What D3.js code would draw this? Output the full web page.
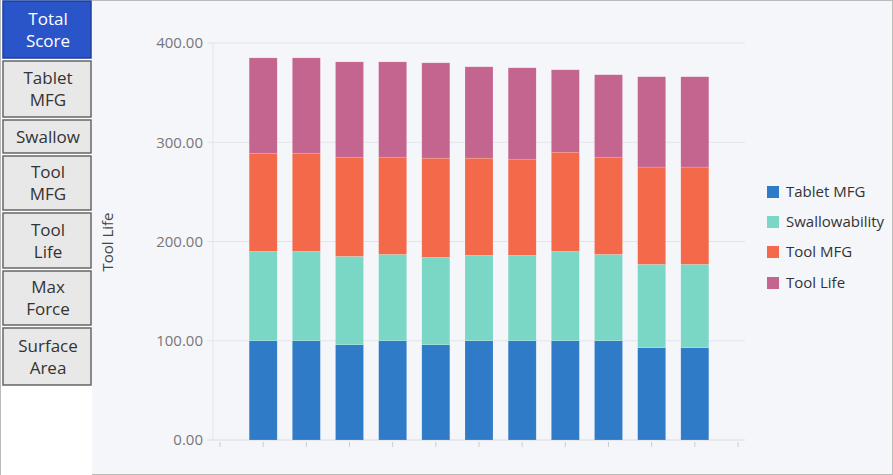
<!DOCTYPE html><html><head><meta charset="utf-8">
<script src="https://cdn.jsdelivr.net/npm/d3@7"></script>
<style>body{margin:0;background:#fff;font-family:"Open Sans","Noto Sans",sans-serif}</style></head><body>
<svg id="c" width="893" height="475"></svg>
<script>
const buttons=[["Total","Score"],["Tablet","MFG"],["Swallow"],["Tool","MFG"],["Tool","Life"],["Max","Force"],["Surface","Area"]];
const seriesNames=["Tablet MFG","Swallowability","Tool MFG","Tool Life"];
const colors=["#2f7bc8","#7ad7c6","#f4694a","#c4658f"];
const tabletMFG=[100,100,96,100,96,100,100,100,100,93,93];
const swallow=[90,90,89,87,88,86,86,90,87,84,84];
const toolMFG=[99,99,100,98,100,98,97,100,98,98,98];
const toolLife=[96,96,96,96,96,92,92,83,83,91,91];
const yTicks=[0,100,200,300,400];
const svg=d3.select("#c");
svg.append("rect").attr("x",92).attr("y",0).attr("width",801).attr("height",475).attr("fill","#f5f6fa");
svg.append("rect").attr("x",0.5).attr("y",0.5).attr("width",892).attr("height",474).attr("fill","none").attr("stroke","#bbb");
svg.append("rect").attr("x",1).attr("y",0).attr("width",91).attr("height",475).attr("fill","#fff");
const bTops=[0,60,119,155,212,270,327],bBots=[58,117,153,210,268,325,385];
buttons.forEach((b,i)=>{
  const g=svg.append("g");
  g.append("rect").attr("x",3).attr("y",bTops[i]+1).attr("width",88).attr("height",bBots[i]-bTops[i]-1)
   .attr("fill",i==0?"#2a55c9":"#e8e8e8").attr("stroke",i==0?"#1d3f9e":"#666").attr("stroke-width",1.5);
  const cy=(bTops[i]+bBots[i])/2+1;
  b.forEach((t,j)=>g.append("text").attr("x",48).attr("y",cy+(j-(b.length-1)/2)*22).attr("dy","0.35em")
   .attr("text-anchor","middle").attr("font-size",17).attr("fill",i==0?"#fff":"#333").text(t));
});
const x=d3.scaleLinear().domain([0,12]).range([220,738]);
const y=d3.scaleLinear().domain([0,400]).range([440,43]);
const gy=svg.append("g");
yTicks.forEach(t=>{
  gy.append("line").attr("x1",207).attr("x2",745).attr("y1",y(t)).attr("y2",y(t)).attr("stroke","#e2e4ea");
  gy.append("text").attr("x",203).attr("y",y(t)).attr("dy","0.35em").attr("text-anchor","end").attr("font-size",15).attr("fill","#777").text(t.toFixed(2));
});
svg.append("line").attr("x1",213).attr("x2",213).attr("y1",43).attr("y2",440).attr("stroke","#e2e4ea");
svg.append("line").attr("x1",207).attr("x2",745).attr("y1",440).attr("y2",440).attr("stroke","#e2e4ea");
d3.range(13).forEach(i=>svg.append("line").attr("x1",x(i)).attr("x2",x(i)).attr("y1",442).attr("y2",447).attr("stroke","#ccc"));
svg.append("text").attr("transform","translate(113,242) rotate(-90)").attr("text-anchor","middle").attr("font-size",15).attr("fill","#444").text("Tool Life");
const data=tabletMFG.map((v,i)=>({i,a:v,b:swallow[i],c:toolMFG[i],d:toolLife[i]}));
const stack=d3.stack().keys(["a","b","c","d"])(data);
stack.forEach((s,k)=>{
  svg.append("g").selectAll("rect").data(s).join("rect")
   .attr("x",d=>x(d.data.i+1)-14).attr("width",28)
   .attr("y",d=>y(d[1])).attr("height",d=>y(d[0])-y(d[1]))
   .attr("fill",colors[k]).attr("stroke","#fff").attr("stroke-opacity",0.3).attr("stroke-width",0.5);
});
const ly=[192,222,252,283];
seriesNames.forEach((n,i)=>{
  svg.append("rect").attr("x",767).attr("y",ly[i]-6).attr("width",12).attr("height",12).attr("fill",colors[i]);
  svg.append("text").attr("x",786).attr("y",ly[i]).attr("dy","0.35em").attr("font-size",15).attr("fill","#333").text(n);
});
</script></body></html>
